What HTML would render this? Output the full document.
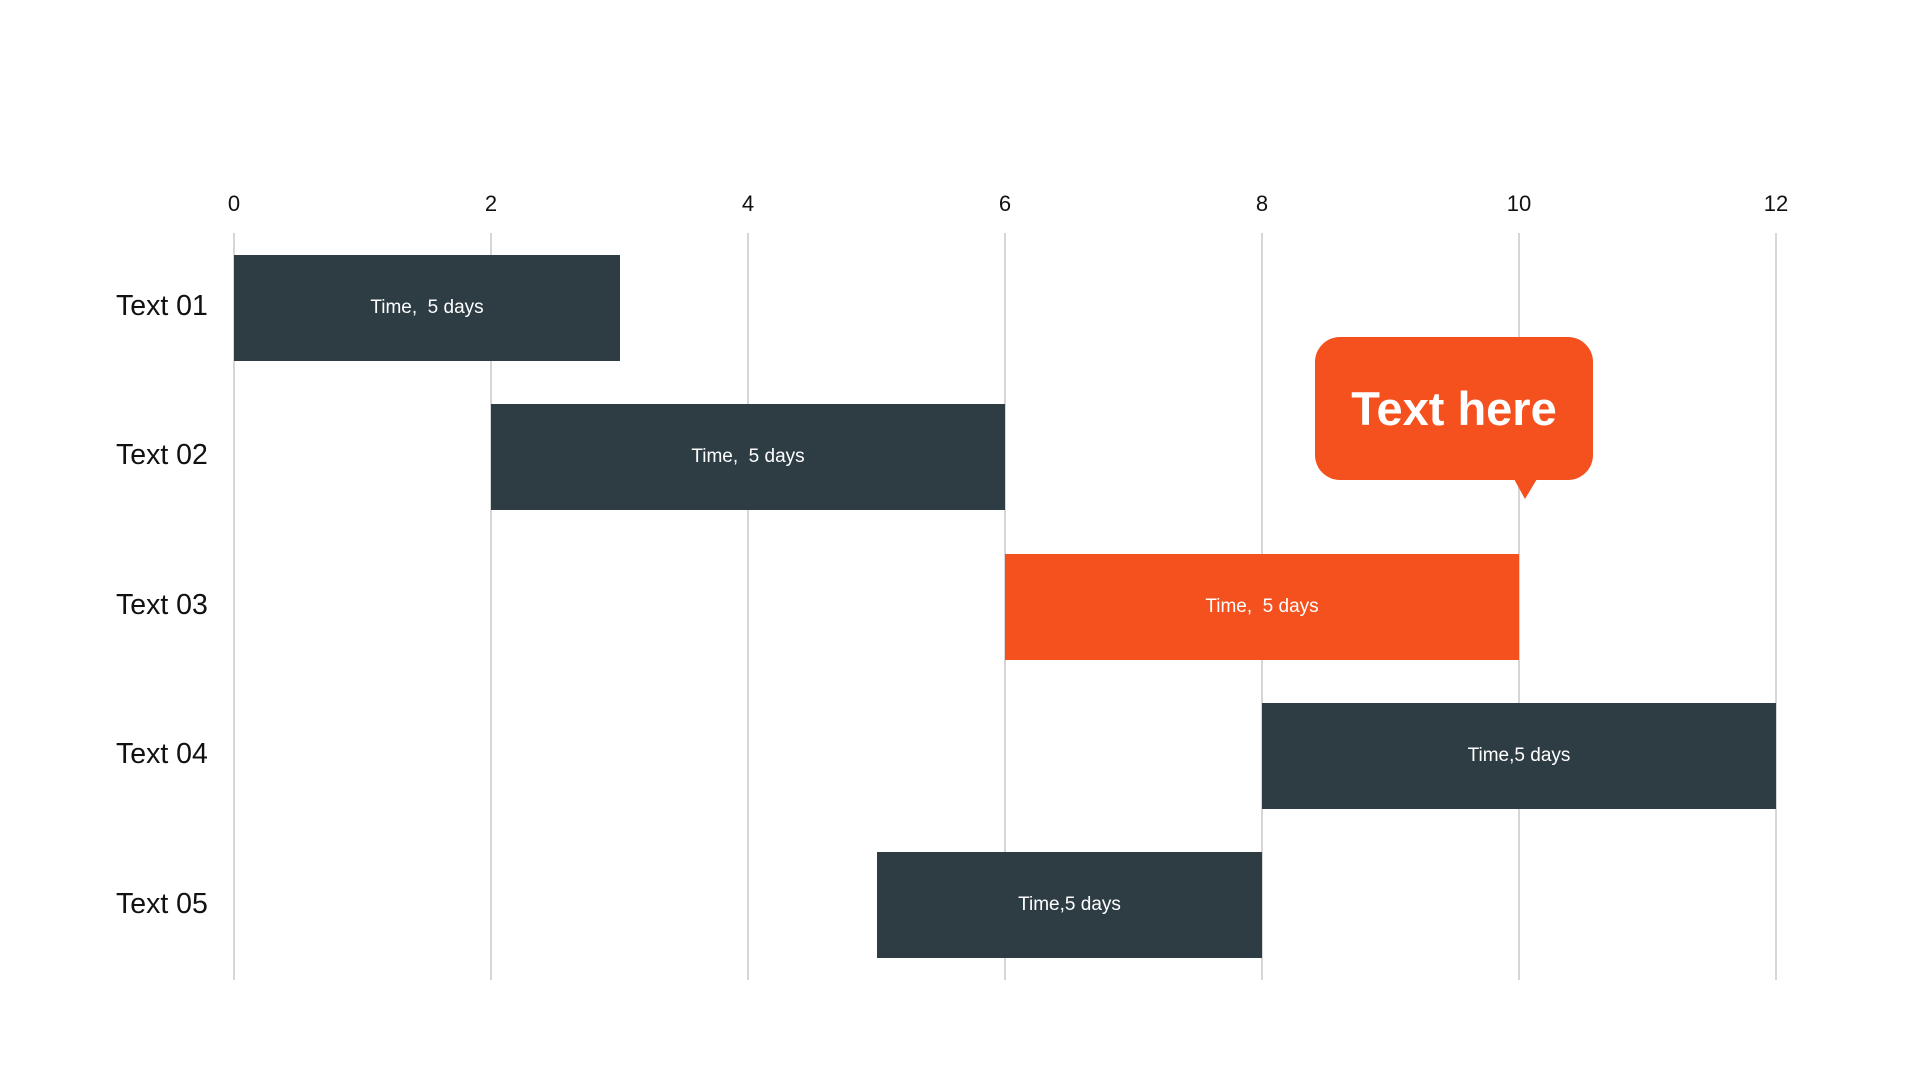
<!DOCTYPE html>
<html><head><style>
body{margin:0;width:1920px;height:1080px;background:#fff;position:relative;overflow:hidden;font-family:"Liberation Sans",Arial,sans-serif}
.g{position:absolute;top:233px;height:747px;width:2px;background:#d6d6d6}
.ax{position:absolute;top:191px;width:60px;margin-left:-30px;text-align:center;font-size:22px;color:#111}
.rl{position:absolute;left:116px;font-size:28.5px;color:#111;line-height:34px}
.b{position:absolute;height:106px;background:#2e3d44;color:#fff;font-size:19px;display:flex;align-items:center;justify-content:center}
</style></head><body>
<div class="g" style="left:233px"></div><div class="g" style="left:490px"></div><div class="g" style="left:747px"></div><div class="g" style="left:1004px"></div><div class="g" style="left:1261px"></div><div class="g" style="left:1518px"></div><div class="g" style="left:1775px"></div>
<div class="ax" style="left:234px">0</div><div class="ax" style="left:491px">2</div><div class="ax" style="left:748px">4</div><div class="ax" style="left:1005px">6</div><div class="ax" style="left:1262px">8</div><div class="ax" style="left:1519px">10</div><div class="ax" style="left:1776px">12</div>
<div class="rl" style="top:289px">Text 01</div>
<div class="rl" style="top:438px">Text 02</div>
<div class="rl" style="top:588px">Text 03</div>
<div class="rl" style="top:737px">Text 04</div>
<div class="rl" style="top:887px">Text 05</div>
<div class="b" style="left:234px;width:386px;top:255px">Time,&nbsp; 5 days</div>
<div class="b" style="left:491px;width:514px;top:404px">Time,&nbsp; 5 days</div>
<div class="b" style="left:1005px;width:514px;top:554px;background:#f4511e">Time,&nbsp; 5 days</div>
<div class="b" style="left:1262px;width:514px;top:703px">Time,5 days</div>
<div class="b" style="left:877px;width:385px;top:852px">Time,5 days</div>
<div style="position:absolute;left:1315px;top:337px;width:278px;height:143px;border-radius:25px;background:#f4511e;color:#fff;font-weight:bold;font-size:47px;display:flex;align-items:center;justify-content:center">Text here</div>
<svg style="position:absolute;left:0;top:0" width="1920" height="1080"><polygon points="1514,479 1537,479 1525,499" fill="#f4511e"/></svg>
</body></html>
